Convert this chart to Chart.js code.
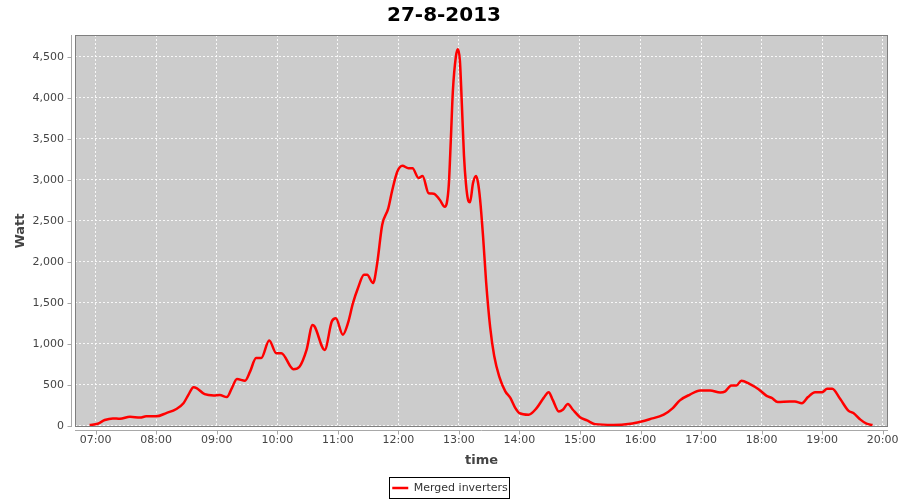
<!DOCTYPE html>
<html>
<head>
<meta charset="utf-8">
<title>27-8-2013</title>
<script src="https://cdn.jsdelivr.net/npm/chart.js@4.4.1/dist/chart.umd.min.js"></script>
<style>
  html, body { margin: 0; padding: 0; background: #fff; }
  #wrap { width: 900px; height: 500px; }
</style>
</head>
<body>
<div id="wrap"><canvas id="powerChart" width="900" height="500"></canvas></div>
<script>
// values
const times = [
  '06:54', '07:02', '07:09', '07:17', '07:24', '07:34', '07:44', '07:50', '08:00', '08:10',
  '08:20', '08:27', '08:32', '08:37', '08:40', '08:48', '08:57', '09:03', '09:10', '09:15',
  '09:20', '09:28', '09:33', '09:39', '09:44', '09:52', '09:59', '10:04', '10:16', '10:22',
  '10:29', '10:35', '10:37', '10:47', '10:54', '10:58', '11:05', '11:10', '11:15', '11:20',
  '11:26', '11:29', '11:35', '11:39', '11:44', '11:50', '11:54', '11:59', '12:04', '12:10',
  '12:14', '12:20', '12:24', '12:30', '12:35', '12:41', '12:46', '12:48', '12:50', '12:52',
  '12:54', '12:57', '12:59', '13:01', '13:03', '13:05', '13:07', '13:09', '13:11', '13:14',
  '13:17', '13:19', '13:21', '13:24', '13:27', '13:31', '13:35', '13:40', '13:46', '13:51',
  '13:56', '14:00', '14:09', '14:17', '14:24', '14:29', '14:33', '14:39', '14:43', '14:48',
  '14:53', '15:00', '15:07', '15:15', '15:33', '15:50', '16:00', '16:09', '16:23', '16:32',
  '16:39', '16:49', '16:59', '17:09', '17:19', '17:24', '17:30', '17:35', '17:40', '17:48',
  '17:57', '18:05', '18:10', '18:16', '18:28', '18:33', '18:40', '18:46', '18:53', '19:00',
  '19:05', '19:10', '19:18', '19:26', '19:31', '19:38', '19:44', '19:50'
];
const watts = [
  10, 25, 70, 90, 85, 110, 100, 115, 115, 155,
  205, 275, 380, 470, 460, 385, 370, 375, 350, 460,
  570, 550, 660, 825, 825, 1040, 885, 885, 690, 720,
  925, 1230, 1210, 925, 1270, 1310, 1110, 1250, 1495, 1680,
  1840, 1840, 1740, 1980, 2450, 2650, 2875, 3100, 3170, 3140,
  3140, 3020, 3045, 2835, 2830, 2755, 2670, 2715, 2940, 3485,
  4075, 4500, 4590, 4450, 3900, 3300, 2950, 2760, 2725, 2960,
  3045, 2960, 2760, 2300, 1750, 1200, 850, 600, 420, 340,
  215, 155, 135, 215, 340, 410, 315, 175, 195, 265,
  195, 105, 65, 20, 10, 25, 50, 80, 135, 215,
  310, 380, 430, 430, 405, 420, 490, 490, 550, 510,
  445, 365, 340, 290, 295, 295, 275, 350, 410, 410,
  450, 450, 325, 185, 155, 75, 25, 10
];
const yTicks = [0, 500, 1000, 1500, 2000, 2500, 3000, 3500, 4000, 4500];
const xTicks = ['07:00', '08:00', '09:00', '10:00', '11:00', '12:00', '13:00',
  '14:00', '15:00', '16:00', '17:00', '18:00', '19:00', '20:00'];

const toMin = t => {
  const [h, m] = t.split(':').map(Number);
  return h * 60 + m;
};
const toClock = v => {
  const h = Math.floor(v / 60), m = Math.round(v % 60);
  return String(h).padStart(2, '0') + ':' + String(m).padStart(2, '0');
};

const FONT = "'DejaVu Sans', sans-serif";

// grey plot background, outline, offset axis lines and legend frame
const frame = {
  id: 'frame',
  afterLayout(chart) {
    // nudge the legend a little to the right, like the original
    chart.legend.left += 6;
    chart.legend.right += 6;
  },
  beforeDraw(chart) {
    const { ctx, chartArea: a } = chart;
    ctx.save();
    ctx.fillStyle = '#ffffff';
    ctx.fillRect(0, 0, chart.width, chart.height);
    ctx.fillStyle = '#cccccc';
    ctx.fillRect(a.left, a.top, a.right - a.left, a.bottom - a.top);
    ctx.restore();
  },
  afterDraw(chart) {
    const { ctx, chartArea: a, scales } = chart;
    ctx.save();
    ctx.lineWidth = 1;
    ctx.strokeStyle = '#7f7f7f';
    ctx.strokeRect(Math.round(a.left) + 0.5, Math.round(a.top) + 0.5,
      Math.round(a.right - a.left) - 1, Math.round(a.bottom - a.top) - 1);

    ctx.strokeStyle = '#a8a8a8';
    ctx.beginPath();
    const ax = Math.round(a.left) - 4 + 0.5;
    ctx.moveTo(ax, a.top);
    ctx.lineTo(ax, a.bottom);
    scales.y.ticks.forEach(t => {
      const py = Math.round(scales.y.getPixelForValue(t.value)) + 0.5;
      ctx.moveTo(ax - 4, py);
      ctx.lineTo(ax, py);
    });
    const ay = Math.round(a.bottom) + 3 + 0.5;
    ctx.moveTo(a.left, ay);
    ctx.lineTo(a.right, ay);
    scales.x.ticks.forEach(t => {
      const px = Math.round(scales.x.getPixelForValue(t.value)) + 0.5;
      ctx.moveTo(px, ay);
      ctx.lineTo(px, ay + 4);
    });
    ctx.stroke();

    const hb = chart.legend.legendHitBoxes[0];
    if (hb) {
      ctx.strokeStyle = '#000000';
      ctx.strokeRect(Math.round(hb.left) - 2.5, Math.round(hb.top) - 5.5,
        Math.round(hb.width) + 5, 21);
    }
    ctx.restore();
  }
};

const ctx = document.getElementById('powerChart').getContext('2d');
new Chart(ctx, {
  type: 'line',
  data: {
    datasets: [{
      label: 'Merged inverters',
      data: times.map((t, i) => ({ x: toMin(t), y: watts[i] })),
      borderColor: '#ff0000',
      backgroundColor: '#ff0000',
      borderWidth: 2.5,
      pointRadius: 0,
      cubicInterpolationMode: 'monotone',
      fill: false
    }]
  },
  options: {
    responsive: false,
    animation: false,
    devicePixelRatio: 1,
    layout: { padding: { left: 0, right: 12, top: 0, bottom: -3.5 } },
    plugins: {
      title: {
        display: true,
        text: '27-8-2013',
        color: '#000000',
        font: { family: FONT, size: 20, weight: 'bold' },
        padding: { top: 3.5, bottom: 7.5 }
      },
      legend: {
        position: 'bottom',
        labels: {
          usePointStyle: true,
          pointStyle: 'line',
          pointStyleWidth: 16,
          padding: 6,
          color: '#333333',
          font: { family: FONT, size: 11 }
        }
      },
      tooltip: { enabled: false }
    },
    scales: {
      x: {
        type: 'linear',
        min: 399.5,
        max: 1205.3,
        afterBuildTicks: s => { s.ticks = xTicks.map(t => ({ value: toMin(t) })); },
        afterFit: s => {
          s.height = 49.5;
          s.paddingLeft = 0;
          s.paddingRight = 0;
        },
        ticks: {
          color: '#444444',
          font: { family: FONT, size: 11 },
          padding: 7,
          maxRotation: 0,
          callback: v => toClock(v)
        },
        grid: { color: 'rgba(255,255,255,0.85)', lineWidth: 1, drawTicks: false },
        border: { display: false, dash: [2, 2] },
        title: {
          display: true,
          text: 'time',
          color: '#444444',
          font: { family: FONT, size: 13, weight: 'bold' },
          padding: { top: 0, bottom: 8.5 }
        }
      },
      y: {
        min: -15,
        max: 4764,
        afterBuildTicks: s => { s.ticks = yTicks.map(v => ({ value: v })); },
        afterFit: s => { s.width = 75; },
        ticks: {
          color: '#444444',
          font: { family: FONT, size: 11 },
          padding: 11,
          callback: v => v.toLocaleString('en-US')
        },
        grid: { color: 'rgba(255,255,255,0.85)', lineWidth: 1, drawTicks: false },
        border: { display: false, dash: [2, 2] },
        title: {
          display: true,
          text: 'Watt',
          color: '#444444',
          font: { family: FONT, size: 13, weight: 'bold' },
          padding: { top: 12.7, bottom: 0 }
        }
      }
    }
  },
  plugins: [frame]
});
</script>
</body>
</html>
